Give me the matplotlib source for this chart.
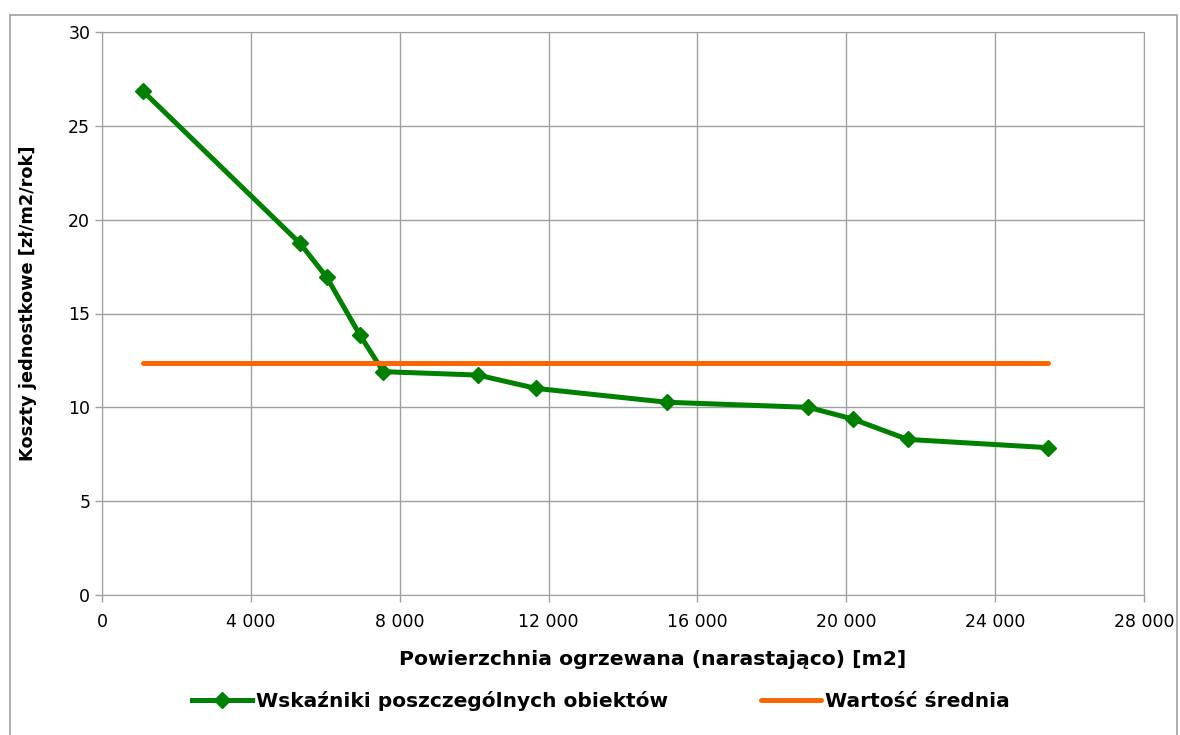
import matplotlib.pyplot as plt
from matplotlib.ticker import FuncFormatter, MultipleLocator
from matplotlib.patches import Rectangle

# cumulative heated area [m2] and unit costs [zl/m2/rok]
area = [1100, 5320, 6040, 6930, 7560, 10100, 11660, 15180, 18980, 20170, 21650, 25430]
cost = [26.85, 18.74, 16.93, 13.85, 11.90, 11.72, 11.01, 10.27, 10.00, 9.38, 8.29, 7.85]
mean_value = 12.34

green = '#008000'
orange = '#FF6600'
grid_col = '#A0A0A0'

fig = plt.figure(figsize=(11.8, 7.35), dpi=100)
ax = fig.add_axes([102/1180, 1 - 595/735, 1042/1180, 563/735])

ax.plot(area, cost, color=green, lw=3.6, marker='D', markersize=8,
        label='Wskaźniki poszczególnych obiektów', zorder=3)
ax.plot([area[0], area[-1]], [mean_value, mean_value], color=orange, lw=3.6,
        solid_capstyle='round', label='Wartość średnia', zorder=4)

ax.set_xlim(0, 28000)
ax.set_ylim(0, 30)
ax.xaxis.set_major_locator(MultipleLocator(4000))
ax.yaxis.set_major_locator(MultipleLocator(5))
ax.xaxis.set_major_formatter(FuncFormatter(lambda v, p: f'{int(v):,}'.replace(',', ' ')))
ax.grid(True, color=grid_col, lw=1)
ax.set_axisbelow(True)
for s in ax.spines.values():
    s.set_color(grid_col)
ax.tick_params(colors=grid_col, labelcolor='black', labelsize=12.5, length=5, width=1)
ax.tick_params(axis='x', pad=8)

ax.set_xlabel('Powierzchnia ogrzewana (narastająco) [m2]', fontsize=14.7, fontweight='bold')
ax.xaxis.set_label_coords((653 - 102) / 1042, -(650 - 595) / 563)
ax.set_ylabel('Koszty jednostkowe [zł/m2/rok]', fontsize=12.8, fontweight='bold')
ax.yaxis.set_label_coords((37 - 102) / 1042, (595 - 303) / 563)

leg = fig.legend(loc='center', bbox_to_anchor=(601/1180, 1 - 701/735),
                 ncol=2, frameon=False, prop={'size': 14.5, 'weight': 'bold'},
                 handlelength=3.0, handletextpad=0.2, columnspacing=4.6)

fig.patches.append(Rectangle((10/1180, -0.01), 1167/1180, 1 - 15/735 + 0.01,
                             transform=fig.transFigure, fill=False,
                             edgecolor='#A0A0A0', lw=1.2))

fig.savefig('out.png', dpi=100)
